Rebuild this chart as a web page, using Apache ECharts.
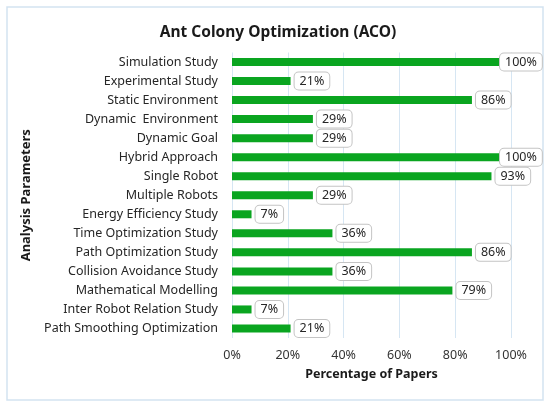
<!DOCTYPE html>
<html>
<head>
<meta charset="utf-8">
<script src="https://cdn.jsdelivr.net/npm/echarts@6/dist/echarts.min.js"></script>
<style>
  html, body { margin: 0; padding: 0; background: #fff; }
  #chart { width: 550px; height: 407px; }
</style>
</head>
<body>
<div id="chart"></div>
<script>
const categories = [
  'Simulation Study',
  'Experimental Study',
  'Static Environment',
  'Dynamic  Environment',
  'Dynamic Goal',
  'Hybrid Approach',
  'Single Robot',
  'Multiple Robots',
  'Energy Efficiency Study',
  'Time Optimization Study',
  'Path Optimization Study',
  'Collision Avoidance Study',
  'Mathematical Modelling',
  'Inter Robot Relation Study',
  'Path Smoothing Optimization'
];
const percentages = [100, 21, 86, 29, 29, 100, 93, 29, 7, 36, 86, 36, 79, 7, 21];
const xTicks = [0, 20, 40, 60, 80, 100];

const chart = echarts.init(document.getElementById('chart'));
const fontFamily = '"Noto Sans", sans-serif';

// labels at 100% would run off the edge, so pull them back over the bar end
const barData = percentages.map(v => ({
  value: v,
  label: v >= 100 ? { offset: [-15, 0] } : {}
}));

const option = {
  animation: false,
  textStyle: { fontFamily: fontFamily },
  title: {
    text: 'Ant Colony Optimization (ACO)',
    left: 273,
    top: 20,
    textAlign: 'center',
    textStyle: { fontSize: 15.5, fontWeight: 'bold', color: '#1a1a1a', fontFamily: fontFamily }
  },
  graphic: [{
    type: 'rect',
    shape: { x: 7, y: 7, width: 536, height: 393 },
    style: { fill: 'none', stroke: '#d3e3f1', lineWidth: 1.5 },
    z: -1
  }],
  grid: { left: 232, right: 39, top: 52.5, bottom: 69 },
  xAxis: {
    type: 'value',
    min: xTicks[0],
    max: xTicks[xTicks.length - 1],
    interval: xTicks[1] - xTicks[0],
    name: 'Percentage of Papers',
    nameLocation: 'middle',
    nameGap: 30,
    nameTextStyle: { fontSize: 12.5, fontWeight: 'bold', color: '#1a1a1a' },
    axisLine: { show: false },
    axisTick: { show: false },
    axisLabel: { formatter: '{value}%', fontSize: 12.5, color: '#333', margin: 11 },
    splitLine: { show: true, lineStyle: { color: '#d6e6f3', width: 1 } }
  },
  yAxis: {
    type: 'category',
    data: categories,
    inverse: true,
    name: 'Analysis Parameters',
    nameLocation: 'middle',
    nameGap: 188,
    nameRotate: 90,
    nameTextStyle: { fontSize: 13, fontWeight: 'bold', color: '#1a1a1a' },
    axisLine: { show: false },
    axisTick: { show: false },
    axisLabel: { fontSize: 12.5, color: '#262626', margin: 14 }
  },
  series: [{
    type: 'bar',
    data: barData,
    barWidth: 8,
    itemStyle: { color: '#0aa520' },
    label: {
      show: true,
      position: 'right',
      distance: 4,
      formatter: '{c}%',
      fontSize: 12.5,
      color: '#262626',
      backgroundColor: '#fff',
      borderColor: '#c4c4c4',
      borderWidth: 1,
      borderRadius: 4,
      padding: [2, 5]
    }
  }]
};

chart.setOption(option);
</script>
</body>
</html>
